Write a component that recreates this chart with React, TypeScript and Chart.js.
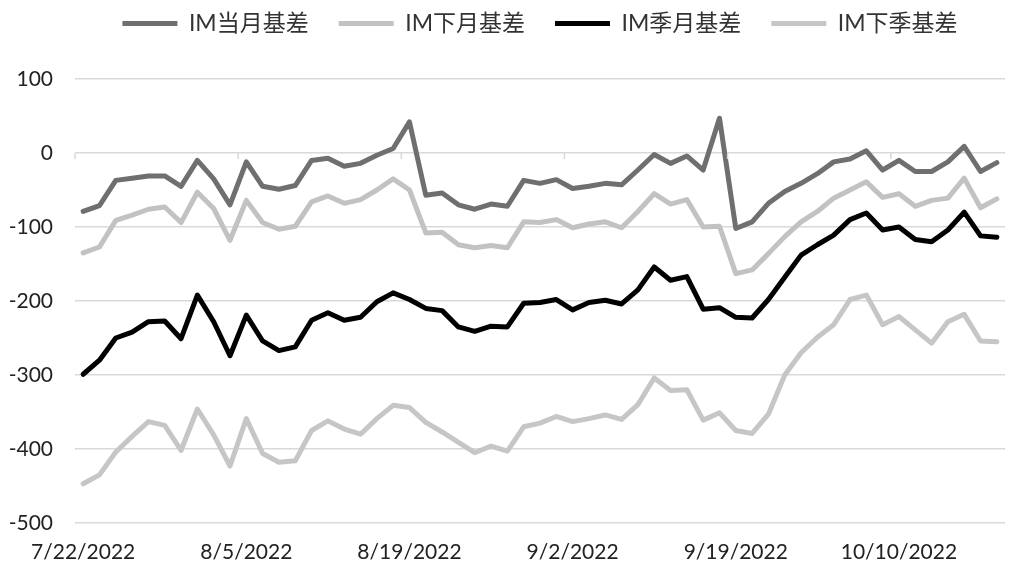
import React, { useEffect, useRef } from "react";
import { Chart, registerables } from "chart.js";

Chart.register(...registerables);

const dates: string[] = [
  "7/22/2022", "7/25/2022", "7/26/2022", "7/27/2022", "7/28/2022", "7/29/2022",
  "8/1/2022", "8/2/2022", "8/3/2022", "8/4/2022", "8/5/2022",
  "8/8/2022", "8/9/2022", "8/10/2022", "8/11/2022", "8/12/2022",
  "8/15/2022", "8/16/2022", "8/17/2022", "8/18/2022", "8/19/2022",
  "8/22/2022", "8/23/2022", "8/24/2022", "8/25/2022", "8/26/2022",
  "8/29/2022", "8/30/2022", "8/31/2022", "9/1/2022", "9/2/2022",
  "9/5/2022", "9/6/2022", "9/7/2022", "9/8/2022", "9/9/2022",
  "9/13/2022", "9/14/2022", "9/15/2022", "9/16/2022", "9/19/2022",
  "9/20/2022", "9/21/2022", "9/22/2022", "9/23/2022",
  "9/26/2022", "9/27/2022", "9/28/2022", "9/29/2022", "9/30/2022",
  "10/10/2022", "10/11/2022", "10/12/2022", "10/13/2022", "10/14/2022",
  "10/17/2022", "10/18/2022",
];

const seriesNames: string[] = ["IM当月基差", "IM下月基差", "IM季月基差", "IM下季基差"];

const currentMonth: number[] = [
  -79, -71, -37, -34, -31, -31, -45, -10, -35, -70,
  -12, -45, -49, -44, -10, -7, -18, -14, -3, 6,
  42, -57, -54, -70, -76, -69, -72, -37, -41, -36,
  -48, -45, -41, -43, -23, -2, -14, -4, -23, 47,
  -102, -93, -68, -52, -41, -28, -12, -8, 3, -23,
  -10, -25, -25, -12, 9, -25, -13,
];

const nextMonth: number[] = [
  -135, -127, -91, -84, -76, -73, -94, -53, -75, -118,
  -64, -94, -103, -99, -66, -58, -68, -63, -50, -35,
  -50, -108, -107, -124, -128, -125, -128, -93, -94, -90,
  -101, -96, -93, -101, -79, -55, -69, -63, -100, -99,
  -163, -158, -136, -113, -93, -79, -61, -50, -39, -60,
  -55, -72, -64, -61, -34, -74, -62,
];

const quarterMonth: number[] = [
  -299, -280, -250, -242, -228, -227, -251, -192, -228, -274,
  -219, -254, -267, -262, -226, -216, -226, -222, -201, -189,
  -198, -210, -213, -235, -241, -234, -235, -203, -202, -198,
  -212, -202, -199, -204, -185, -154, -172, -167, -211, -209,
  -222, -223, -198, -168, -138, -124, -111, -90, -81, -104,
  -100, -117, -120, -104, -80, -112, -114,
];

const nextQuarter: number[] = [
  -447, -435, -404, -383, -363, -368, -402, -346, -381, -423,
  -359, -406, -418, -416, -375, -362, -373, -380, -359, -341,
  -344, -364, -377, -391, -405, -396, -403, -370, -365, -356,
  -363, -359, -354, -360, -340, -304, -321, -320, -361, -351,
  -375, -379, -353, -300, -270, -249, -232, -198, -192, -232,
  -221, -239, -257, -228, -218, -254, -255,
];

const seriesColors: string[] = ["#6f6f6f", "#c2c2c2", "#000000", "#c6c6c6"];

const FONT = "Lato, 'Noto Sans CJK SC', sans-serif";

const categoryTicks = {
  id: "categoryTicks",
  afterDatasetsDraw(chart: any) {
    const x = chart.scales.x;
    const y = chart.scales.y;
    const ctx = chart.ctx;
    const y0 = y.getPixelForValue(0);
    const n = chart.data.labels.length;
    const half = (x.getPixelForValue(1) - x.getPixelForValue(0)) / 2;
    ctx.save();
    ctx.strokeStyle = "#d9d9d9";
    ctx.lineWidth = 1.5;
    for (let i = 0; i <= n; i += 10) {
      const px = x.getPixelForValue(i) - half;
      ctx.beginPath();
      ctx.moveTo(px, y0);
      ctx.lineTo(px, y0 + 6);
      ctx.stroke();
    }
    ctx.restore();
  },
};

export default function App() {
  const ref = useRef<HTMLCanvasElement | null>(null);

  useEffect(() => {
    document.body.style.margin = "0";
    const all = [currentMonth, nextMonth, quarterMonth, nextQuarter];
    const chart = new Chart(ref.current as HTMLCanvasElement, {
      type: "line",
      data: {
        labels: dates,
        datasets: all.map((d, i) => ({
          label: seriesNames[i],
          data: d,
          borderColor: seriesColors[i],
          backgroundColor: seriesColors[i],
          borderWidth: 5,
          pointRadius: 0,
          tension: 0,
          borderCapStyle: "round" as const,
          borderJoinStyle: "round" as const,
        })),
      },
      options: {
        animation: false,
        responsive: false,
        devicePixelRatio: 1,
        layout: { padding: { left: 8, right: 11, top: -18, bottom: 0 } },
        plugins: {
          tooltip: { enabled: false },
          legend: {
            position: "top",
            fullSize: false,
            labels: {
              usePointStyle: true,
              pointStyle: "line",
              pointStyleWidth: 55,
              boxWidth: 55,
              boxHeight: 20,
              padding: 30,
              color: "#333333",
              font: { family: FONT, size: 23 },
            },
          },
        },
        scales: {
          x: {
            type: "category",
            offset: true,
            grid: { display: false, drawTicks: false },
            border: { display: false },
            ticks: {
              autoSkip: false,
              maxRotation: 0,
              minRotation: 0,
              padding: 17,
              color: "#222222",
              font: { family: FONT, size: 21 },
              callback: (_v: any, i: number) => (i % 10 === 0 ? dates[i] : ""),
            },
            afterFit: (s: any) => {
              s.height = 51;
            },
          },
          xTop: {
            type: "category",
            position: "top",
            offset: true,
            grid: { display: false, drawTicks: false },
            border: { display: false },
            ticks: { display: false },
            afterFit: (s: any) => {
              s.height = 34;
            },
          },
          y: {
            min: -500,
            max: 100,
            grid: { color: "#d9d9d9", lineWidth: 1.5, drawTicks: false },
            border: { display: false },
            ticks: {
              stepSize: 100,
              padding: 22,
              color: "#222222",
              font: { family: FONT, size: 21 },
            },
            afterFit: (s: any) => {
              s.width = 67;
            },
          },
        },
      },
      plugins: [categoryTicks],
    });
    return () => chart.destroy();
  }, []);

  return (
    <div style={{ position: "fixed", left: 0, top: 0, width: 1016, height: 574 }}>
      <canvas ref={ref} width={1016} height={574} style={{ width: 1016, height: 574 }} />
    </div>
  );
}
